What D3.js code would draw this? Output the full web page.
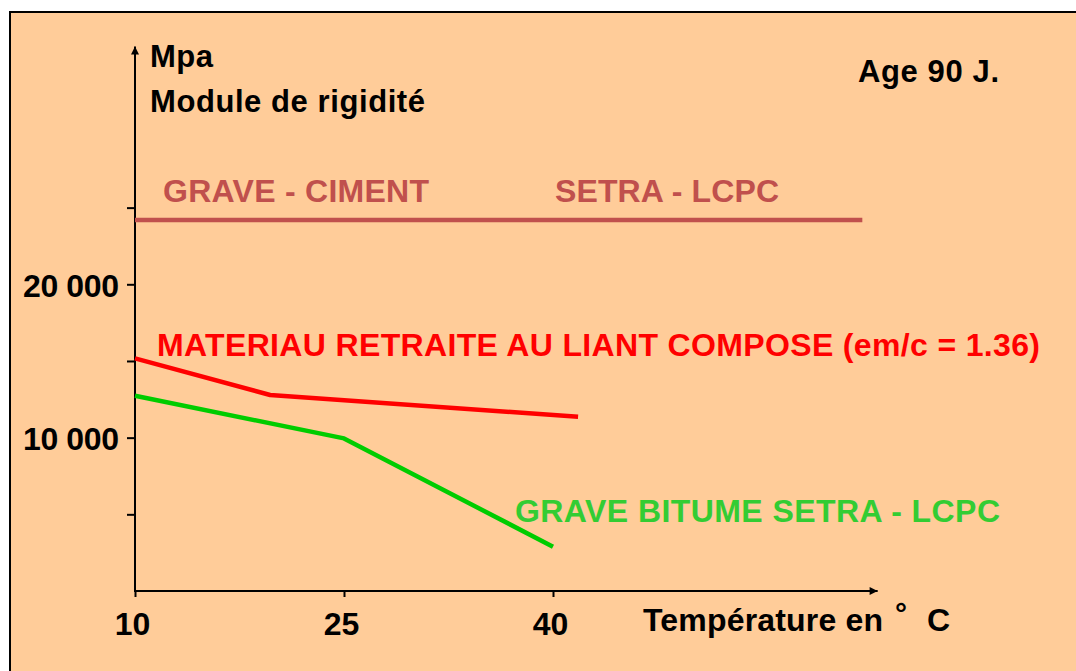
<!DOCTYPE html>
<html>
<head>
<meta charset="utf-8">
<script src="https://cdn.jsdelivr.net/npm/d3@7"></script>
<style>
  html, body { margin: 0; padding: 0; background: #ffffff; }
  svg { display: block; }
  text { font-family: "Liberation Sans", Arial, sans-serif; font-weight: bold; }
</style>
</head>
<body>
<svg id="chart" width="1076" height="671"></svg>
<script>
// ---- data ----
const xTickValues = [10, 25, 40];
const xTickLabels = ["10", "25", "40"];
const yTickValues = [5000, 10000, 15000, 20000, 25000];
const yTickLabels = ["", "10 000", "", "20 000", ""];

const graveCimentT = [10, 62.2];
const graveCimentV = [24200, 24200];

const materiauT = [10, 19.7, 41.8];
const materiauV = [15170, 12780, 11360];

const graveBitumeT = [10, 25, 40];
const graveBitumeV = [12730, 9950, 2890];

const yAxisTitle = ["Mpa", "Module de rigidité"];
const xAxisTitle = "Température en";
const ageLabel = "Age 90 J.";

// ---- drawing ----
const svg = d3.select("#chart");

svg.append("rect")
  .attr("x", 10).attr("y", 12)
  .attr("width", 1100).attr("height", 700)
  .attr("fill", "#FFCC99")
  .attr("stroke", "#000").attr("stroke-width", 2);

const x = d3.scaleLinear().domain([10, 40]).range([135, 553]);
const y = d3.scaleLinear().domain([0, 20000]).range([591, 284.3]);

const defs = svg.append("defs");
defs.append("marker")
  .attr("id", "arrow")
  .attr("viewBox", "0 0 10 10")
  .attr("refX", 10).attr("refY", 5)
  .attr("markerWidth", 10).attr("markerHeight", 8)
  .attr("markerUnits", "userSpaceOnUse")
  .attr("orient", "auto")
  .append("path").attr("d", "M0,0 L10,5 L0,10 Z").attr("fill", "#000");

// x axis
const xAxis = svg.append("g")
  .attr("transform", `translate(0,${y(0)})`)
  .call(d3.axisBottom(x).tickValues(xTickValues)
    .tickFormat((d, i) => xTickLabels[i]).tickSize(6).tickSizeOuter(0));
xAxis.select(".domain").remove();
xAxis.selectAll(".tick line").attr("stroke", "#000").attr("stroke-width", 2);
xAxis.selectAll(".tick text")
  .attr("font-size", 32).attr("fill", "#000")
  .attr("dy", null).attr("y", 44).attr("x", -3);

svg.append("line")
  .attr("x1", x(10)).attr("x2", x(63.3))
  .attr("y1", y(0)).attr("y2", y(0))
  .attr("stroke", "#000").attr("stroke-width", 2)
  .attr("marker-end", "url(#arrow)");

// y axis
const yAxis = svg.append("g")
  .attr("transform", `translate(${x(10)},0)`)
  .call(d3.axisLeft(y).tickValues(yTickValues)
    .tickFormat((d, i) => yTickLabels[i]).tickSize(8).tickSizeOuter(0));
yAxis.select(".domain").remove();
yAxis.selectAll(".tick line").attr("stroke", "#000").attr("stroke-width", 2);
yAxis.selectAll(".tick text")
  .attr("font-size", 32).attr("fill", "#000")
  .attr("dy", null).attr("y", 12).attr("x", -16)
  .attr("textLength", 96).attr("lengthAdjust", "spacing");

svg.append("line")
  .attr("x1", x(10)).attr("x2", x(10))
  .attr("y1", y(0) + 1).attr("y2", y(35500))
  .attr("stroke", "#000").attr("stroke-width", 2)
  .attr("marker-end", "url(#arrow)");

// lines
const line = d3.line().x(d => x(d[0])).y(d => y(d[1]));
function drawSeries(ts, vs, color) {
  svg.append("path")
    .datum(ts.map((t, i) => [t, vs[i]]))
    .attr("d", line)
    .attr("fill", "none")
    .attr("stroke", color)
    .attr("stroke-width", 4.5)
    .attr("stroke-linejoin", "round");
}
drawSeries(graveCimentT, graveCimentV, "#C0504D");
drawSeries(materiauT, materiauV, "#FF0000");
drawSeries(graveBitumeT, graveBitumeV, "#00CC00");

// texts
function label(txt, xx, yy, fs, w, color) {
  const t = svg.append("text")
    .attr("x", xx).attr("y", yy)
    .attr("font-size", fs)
    .attr("fill", color || "#000")
    .text(txt);
  if (w) t.attr("textLength", w).attr("lengthAdjust", "spacing");
  return t;
}
label(yAxisTitle[0], 150, 67, 31, 63);
label(yAxisTitle[1], 150, 112, 31, 275);
label(ageLabel, 858, 82, 31, 141);
label("GRAVE - CIMENT", 163, 202, 32, 266, "#C0504D");
label("SETRA - LCPC", 555, 202, 32, 224, "#C0504D");
label("MATERIAU RETRAITE AU LIANT COMPOSE (em/c = 1.36)", 157, 356, 32, 883, "#FF0000");
label("GRAVE BITUME SETRA - LCPC", 515, 522, 32, 485, "#33CC33");
label(xAxisTitle, 643, 631, 32, 240);
label("°", 895, 624, 30);
label("C", 927, 631, 32);
</script>
</body>
</html>
